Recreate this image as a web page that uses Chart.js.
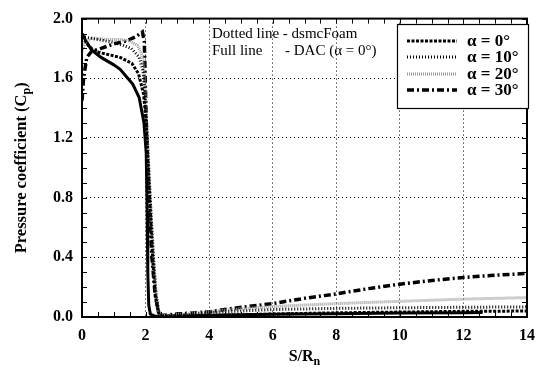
<!DOCTYPE html>
<html><head><meta charset="utf-8">
<script src="https://cdn.jsdelivr.net/npm/chart.js@4/dist/chart.umd.min.js"></script>
<style>html,body{margin:0;padding:0;background:#fff;}</style>
</head><body>
<canvas id="c" width="544" height="371"></canvas>
<script>
// ---- data ----
const xTicks = [0, 2, 4, 6, 8, 10, 12, 14];
const yTicks = [0, 0.4, 0.8, 1.2, 1.6, 2.0];

const dacX = [0, 0.1, 0.3, 0.6, 1.0, 1.2, 1.4, 1.6, 1.8, 1.95, 2.02, 2.05, 2.07, 2.1, 2.15, 2.3, 3, 4, 6, 8, 10, 12, 12.6];
const dacY = [1.9, 1.86, 1.79, 1.74, 1.69, 1.66, 1.61, 1.56, 1.47, 1.3, 1.1, 0.7, 0.3, 0.08, 0.02, 0.005, 0.008, 0.012, 0.018, 0.022, 0.026, 0.028, 0.03];

const a0X = [0, 0.2, 0.4, 0.8, 1.2, 1.57, 1.78, 1.94, 2.02, 2.08, 2.15, 2.22, 2.3, 2.4, 2.5, 3, 4, 6, 8, 10, 12, 14];
const a0Y = [1.88, 1.82, 1.78, 1.76, 1.74, 1.70, 1.63, 1.49, 1.3, 1.0, 0.7, 0.4, 0.15, 0.03, 0.005, 0.005, 0.01, 0.02, 0.028, 0.033, 0.038, 0.04];

const a10X = [0, 0.5, 1.0, 1.3, 1.55, 1.8, 1.92, 1.98, 2.03, 2.1, 2.17, 2.25, 2.33, 2.42, 2.5, 3, 4, 5, 6, 8, 10, 12, 14];
const a10Y = [1.88, 1.86, 1.84, 1.82, 1.8, 1.74, 1.65, 1.5, 1.3, 1.0, 0.7, 0.4, 0.15, 0.03, 0.01, 0.01, 0.03, 0.04, 0.05, 0.058, 0.062, 0.065, 0.068];

const a20X = [0, 0.1, 0.3, 0.8, 1.2, 1.5, 1.75, 1.9, 1.97, 2.03, 2.1, 2.17, 2.25, 2.33, 2.42, 2.5, 3, 4, 5, 6, 8, 10, 12, 14];
const a20Y = [1.78, 1.84, 1.87, 1.86, 1.86, 1.85, 1.82, 1.75, 1.6, 1.3, 1.0, 0.7, 0.4, 0.15, 0.03, 0.01, 0.015, 0.035, 0.055, 0.07, 0.09, 0.105, 0.12, 0.13];

const a30X = [0, 0.05, 0.15, 0.3, 0.6, 1.0, 1.4, 1.7, 1.9, 1.96, 2.0, 2.05, 2.12, 2.2, 2.3, 2.4, 2.5, 3, 4, 5, 6, 7, 8, 9, 10, 11, 12, 13, 14];
const a30Y = [1.45, 1.6, 1.74, 1.78, 1.8, 1.83, 1.85, 1.88, 1.91, 1.85, 1.5, 1.1, 0.7, 0.4, 0.15, 0.04, 0.01, 0.02, 0.035, 0.065, 0.09, 0.125, 0.155, 0.19, 0.22, 0.245, 0.265, 0.28, 0.292];

const legendLabels = ['\u03B1 = 0\u00B0', '\u03B1 = 10\u00B0', '\u03B1 = 20\u00B0', '\u03B1 = 30\u00B0'];
const noteLines = ['Dotted line - dsmcFoam', 'Full line', '- DAC (\u03B1 = 0\u00B0)'];

const pts = (xs, ys) => xs.map((x, i) => ({x: x, y: ys[i]}));
const FONT = "'Liberation Serif', 'Times New Roman', serif";

const styles = [
  {color: '#000', width: 3, dash: [3, 1.5]},        // alpha 0
  {color: '#000', width: 3, dash: [1, 2]},          // alpha 10
  {color: '#9a9a9a', width: 3, dash: [1, 1]},       // alpha 20
  {color: '#000', width: 3.5, dash: [7, 3, 2, 3]}   // alpha 30
];

const datasets = [
  {data: pts(a0X, a0Y)}, {data: pts(a10X, a10Y)}, {data: pts(a20X, a20Y)}, {data: pts(a30X, a30Y)}
].map((d, i) => Object.assign(d, {
  borderColor: styles[i].color, borderWidth: styles[i].width, borderDash: styles[i].dash,
  showLine: true, pointRadius: 0, tension: 0, fill: false
}));
datasets.push({data: pts(dacX, dacY), borderColor: '#000', borderWidth: 3, showLine: true, pointRadius: 0, tension: 0, fill: false});

const decor = {
  id: 'decor',
  afterDatasetsDraw(chart) {
    const ctx = chart.ctx, a = chart.chartArea;
    const xs = chart.scales.x, ys = chart.scales.y;
    ctx.save();
    ctx.strokeStyle = '#000'; ctx.lineWidth = 1; ctx.setLineDash([]);
    for (let v = 0; v <= 14.001; v += 0.5) {
      const px = Math.round(xs.getPixelForValue(v)) + 0.5;
      const L = 5;
      ctx.beginPath(); ctx.moveTo(px, a.bottom); ctx.lineTo(px, a.bottom - L);
      ctx.moveTo(px, a.top); ctx.lineTo(px, a.top + L); ctx.stroke();
    }
    for (let v = 0; v <= 2.0001; v += 0.1) {
      const py = Math.round(ys.getPixelForValue(v)) + 0.5;
      const L = 5;
      ctx.beginPath(); ctx.moveTo(a.left, py); ctx.lineTo(a.left + L, py);
      ctx.moveTo(a.right, py); ctx.lineTo(a.right - L, py); ctx.stroke();
    }
    ctx.lineWidth = 2;
    ctx.strokeRect(a.left, a.top, a.right - a.left, a.bottom - a.top);

    ctx.fillStyle = '#000';
    ctx.font = '15px ' + FONT;
    ctx.textBaseline = 'middle'; ctx.textAlign = 'left';
    ctx.fillText(noteLines[0], 212, 34);
    ctx.fillText(noteLines[1], 212, 51);
    ctx.fillText(noteLines[2], 285, 51);

    const bx = 397, by = 24, bw = 131, bh = 84;
    ctx.fillStyle = '#fff';
    ctx.fillRect(bx, by, bw, bh);
    ctx.lineWidth = 1.2; ctx.strokeStyle = '#000';
    ctx.strokeRect(bx + 0.5, by + 0.5, bw, bh);
    const rows = [41, 57, 74, 90];
    styles.forEach((s, i) => {
      ctx.save();
      ctx.strokeStyle = s.color; ctx.lineWidth = s.width; ctx.setLineDash(s.dash);
      ctx.beginPath(); ctx.moveTo(407, rows[i]); ctx.lineTo(457, rows[i]); ctx.stroke();
      ctx.restore();
      ctx.fillStyle = '#000';
      ctx.font = 'bold 17px ' + FONT;
      ctx.textBaseline = 'middle';
      ctx.fillText(legendLabels[i], 467, rows[i] + 1);
    });

    ctx.textBaseline = 'alphabetic';
    const main = 'S/R', sub = 'n';
    ctx.font = 'bold 16px ' + FONT; const w1 = ctx.measureText(main).width;
    ctx.font = 'bold 12px ' + FONT; const w2 = ctx.measureText(sub).width;
    const cx = (a.left + a.right) / 2;
    let x0 = cx - (w1 + w2) / 2;
    ctx.font = 'bold 16px ' + FONT; ctx.fillText(main, x0, 361);
    ctx.font = 'bold 12px ' + FONT; ctx.fillText(sub, x0 + w1, 365);

    ctx.save();
    ctx.translate(26, (a.top + a.bottom) / 2);
    ctx.rotate(-Math.PI / 2);
    const t1 = 'Pressure coefficient (C', t2 = 'p', t3 = ')';
    ctx.font = 'bold 16.5px ' + FONT; const m1 = ctx.measureText(t1).width, m3 = ctx.measureText(t3).width;
    ctx.font = 'bold 12px ' + FONT; const m2 = ctx.measureText(t2).width;
    let s0 = -(m1 + m2 + m3) / 2;
    ctx.font = 'bold 16.5px ' + FONT; ctx.fillText(t1, s0, 0);
    ctx.font = 'bold 12px ' + FONT; ctx.fillText(t2, s0 + m1, 4);
    ctx.font = 'bold 16.5px ' + FONT; ctx.fillText(t3, s0 + m1 + m2, 0);
    ctx.restore();

    ctx.restore();
  }
};

new Chart(document.getElementById('c'), {
  type: 'scatter',
  data: {datasets: datasets},
  options: {
    responsive: false, animation: false, devicePixelRatio: 1,
    layout: {padding: {left: 0, right: 7, top: 17, bottom: 0}},
    plugins: {legend: {display: false}, tooltip: {enabled: false}},
    scales: {
      x: {
        type: 'linear', min: 0, max: 14,
        afterBuildTicks: s => { s.ticks = xTicks.map(v => ({value: v})); },
        afterFit: s => { s.height = 54; },
        ticks: {color: '#000', font: {family: FONT, size: 16, weight: 'bold'}, padding: 9, maxRotation: 0,
                callback: v => String(v)},
        grid: {color: '#000', lineWidth: 1, drawTicks: false},
        border: {display: false, dash: [1, 3]}
      },
      y: {
        type: 'linear', min: 0, max: 2.0,
        afterBuildTicks: s => { s.ticks = yTicks.map(v => ({value: v})); },
        afterFit: s => { s.width = 82; },
        ticks: {color: '#000', font: {family: FONT, size: 16, weight: 'bold'}, padding: 9,
                callback: v => Number(v).toFixed(1)},
        grid: {color: '#000', lineWidth: 1, drawTicks: false},
        border: {display: false, dash: [1, 3]}
      }
    }
  },
  plugins: [decor]
});
</script>
</body></html>
